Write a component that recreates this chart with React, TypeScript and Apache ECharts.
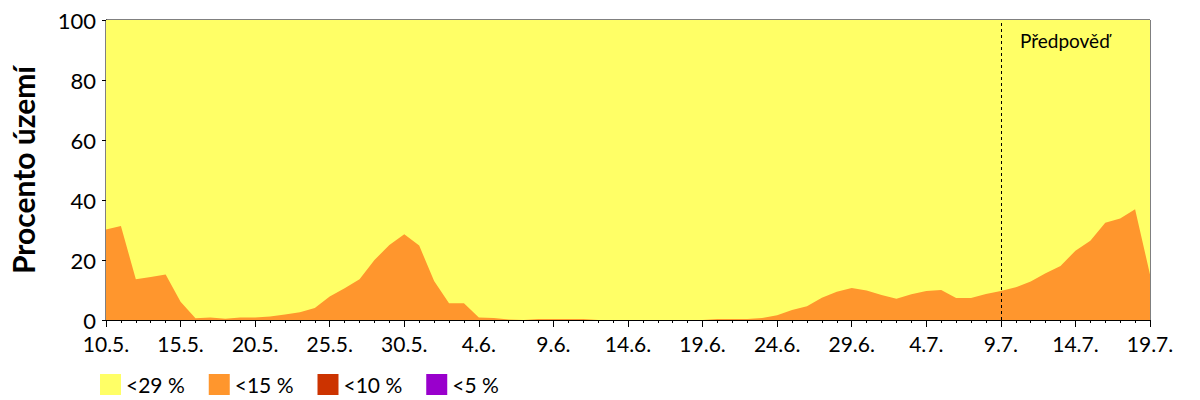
import React, { useEffect, useRef } from "react";
import * as echarts from "echarts";

const dates = [
  "10.5.", "11.5.", "12.5.", "13.5.", "14.5.", "15.5.", "16.5.", "17.5.", "18.5.", "19.5.",
  "20.5.", "21.5.", "22.5.", "23.5.", "24.5.", "25.5.", "26.5.", "27.5.", "28.5.", "29.5.",
  "30.5.", "31.5.", "1.6.", "2.6.", "3.6.", "4.6.", "5.6.", "6.6.", "7.6.", "8.6.",
  "9.6.", "10.6.", "11.6.", "12.6.", "13.6.", "14.6.", "15.6.", "16.6.", "17.6.", "18.6.",
  "19.6.", "20.6.", "21.6.", "22.6.", "23.6.", "24.6.", "25.6.", "26.6.", "27.6.", "28.6.",
  "29.6.", "30.6.", "1.7.", "2.7.", "3.7.", "4.7.", "5.7.", "6.7.", "7.7.", "8.7.",
  "9.7.", "10.7.", "11.7.", "12.7.", "13.7.", "14.7.", "15.7.", "16.7.", "17.7.", "18.7.",
  "19.7.",
];

const under29 = [
  100, 100, 100, 100, 100, 100, 100, 100, 100, 100,
  100, 100, 100, 100, 100, 100, 100, 100, 100, 100,
  100, 100, 100, 100, 100, 100, 100, 100, 100, 100,
  100, 100, 100, 100, 100, 100, 100, 100, 100, 100,
  100, 100, 100, 100, 100, 100, 100, 100, 100, 100,
  100, 100, 100, 100, 100, 100, 100, 100, 100, 100,
  100, 100, 100, 100, 100, 100, 100, 100, 100, 100,
  100,
];

const under15 = [
  30.2, 31.3, 13.6, 14.3, 15.2, 6.1, 0.6, 0.8, 0.4, 0.8,
  0.8, 1.2, 1.8, 2.6, 4.0, 7.8, 10.6, 13.6, 20.0, 25.0,
  28.6, 24.8, 13.0, 5.6, 5.6, 0.8, 0.7, 0.2, 0, 0.3,
  0.3, 0.3, 0.3, 0, 0, 0, 0, 0, 0, 0,
  0, 0.3, 0.3, 0.3, 0.7, 1.6, 3.3, 4.6, 7.4, 9.4,
  10.7, 9.8, 8.3, 7.1, 8.6, 9.7, 10.0, 7.3, 7.3, 8.7,
  9.7, 10.9, 12.8, 15.6, 18.0, 23.1, 26.4, 32.4, 33.8, 36.9,
  15.2,
];

const under10 = [
  0, 0, 0, 0, 0, 0, 0, 0, 0, 0, 0, 0, 0, 0, 0, 0, 0, 0, 0, 0,
  0, 0, 0, 0, 0, 0, 0, 0, 0, 0, 0, 0, 0, 0, 0, 0, 0, 0, 0, 0,
  0, 0, 0, 0, 0, 0, 0, 0, 0, 0, 0, 0, 0, 0, 0, 0, 0, 0, 0, 0,
  0, 0, 0, 0, 0, 0, 0, 0, 0, 0, 0,
];
const under5 = [
  0, 0, 0, 0, 0, 0, 0, 0, 0, 0, 0, 0, 0, 0, 0, 0, 0, 0, 0, 0,
  0, 0, 0, 0, 0, 0, 0, 0, 0, 0, 0, 0, 0, 0, 0, 0, 0, 0, 0, 0,
  0, 0, 0, 0, 0, 0, 0, 0, 0, 0, 0, 0, 0, 0, 0, 0, 0, 0, 0, 0,
  0, 0, 0, 0, 0, 0, 0, 0, 0, 0, 0,
];

const seriesNames = ["<29 %", "<15 %", "<10 %", "<5 %"];
const seriesColors = ["#FFFF66", "#FF962D", "#CC3300", "#9900CC"];
const forecastStart = "9.7.";
const forecastLabel = "Předpověď";
const yAxisTitle = "Procento území";

const FONT = "Lato, 'Open Sans', sans-serif";

export default function App() {
  const ref = useRef<HTMLDivElement>(null);
  useEffect(() => {
    document.body.style.margin = "0";
    if (!ref.current) return;
    const chart = echarts.init(ref.current, null, { renderer: "svg" });
    const allData = [under29, under15, under10, under5];
    const forecastIdx = dates.indexOf(forecastStart);
    chart.setOption({
      animation: false,
      backgroundColor: "#fff",
      textStyle: { fontFamily: FONT },
      grid: {
        left: 100,
        right: 50,
        top: 20,
        bottom: 80,
        show: true,
        borderColor: "#000",
        borderWidth: 1,
        backgroundColor: "transparent",
      },
      legend: {
        left: 100,
        top: 374,
        padding: 0,
        itemWidth: 21,
        itemHeight: 21,
        itemGap: 24,
        icon: "rect",
        data: seriesNames,
        textStyle: { fontSize: 21, color: "#000", fontFamily: FONT },
      },
      xAxis: {
        type: "value",
        min: 0,
        max: dates.length - 1,
        interval: 5,
        axisLine: { show: true, lineStyle: { color: "#000", width: 1 } },
        axisTick: { show: true, length: 7, lineStyle: { color: "#000" } },
        minorTick: { show: true, splitNumber: 5, length: 3, lineStyle: { color: "#000" } },
        splitLine: { show: false },
        axisLabel: {
          color: "#000",
          fontSize: 21,
          margin: 13,
          fontFamily: FONT,
          formatter: (v: number) => dates[v] ?? "",
        },
      },
      yAxis: {
        type: "value",
        min: 0,
        max: 100,
        interval: 20,
        name: yAxisTitle,
        nameLocation: "middle",
        nameGap: 68,
        nameTextStyle: { fontSize: 30, fontWeight: "bold", color: "#000", fontFamily: FONT },
        axisLine: { show: true, lineStyle: { color: "#000", width: 1 } },
        axisTick: { show: true, length: 4, lineStyle: { color: "#000" } },
        splitLine: { show: false },
        axisLabel: { color: "#000", fontSize: 22, margin: 10, fontFamily: FONT },
      },
      series: seriesNames.map((name, k) => ({
        name,
        type: "line",
        data: allData[k].map((v, i) => [i, v]),
        symbol: "none",
        showSymbol: false,
        lineStyle: { width: 0, color: seriesColors[k] },
        itemStyle: { color: seriesColors[k] },
        areaStyle: { color: seriesColors[k], opacity: 1 },
        z: 2 + k,
        markLine:
          k === 0
            ? {
                silent: true,
                symbol: "none",
                label: { show: false },
                lineStyle: { color: "#000", type: [3, 3], width: 1 },
                data: [{ xAxis: forecastIdx }],
              }
            : undefined,
      })),
      graphic: [
        {
          type: "text",
          left: 1020,
          top: 31,
          z: 100,
          style: { text: forecastLabel, fontSize: 19, fill: "#000", fontFamily: FONT },
        },
      ],
    });
    return () => chart.dispose();
  }, []);
  return <div ref={ref} style={{ width: 1200, height: 400 }} />;
}
